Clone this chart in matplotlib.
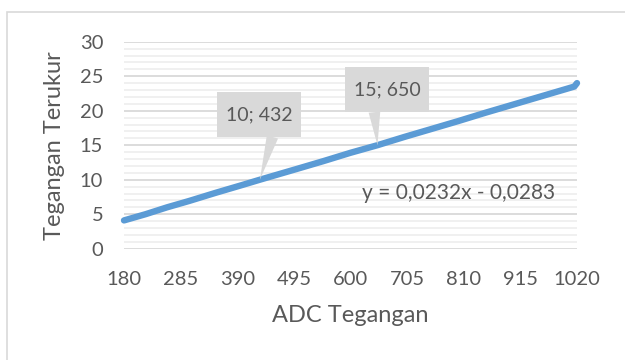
import matplotlib
matplotlib.use("Agg")
import matplotlib.pyplot as plt
from matplotlib.patches import Rectangle
from matplotlib.ticker import MultipleLocator

plt.rcParams["font.family"] = ["Lato", "DejaVu Sans"]

# ADC reading vs measured voltage
adc = [180, 220, 260, 300, 350, 400, 432, 500, 550, 600, 650,
       700, 750, 800, 850, 900, 950, 1000, 1015, 1020]
volt = [4.1, 5.0, 6.0, 6.9, 8.1, 9.25, 10.0, 11.55, 12.7, 13.9, 15.0,
        16.2, 17.35, 18.5, 19.7, 20.85, 22.0, 23.15, 23.5, 24.0]
xticks = [180, 285, 390, 495, 600, 705, 810, 915, 1020]

callouts = [(432, 10, "10; 432"), (650, 15, "15; 650")]
equation = "y = 0,0232x - 0,0283"

txt = "#595959"
blue = "#5B9BD5"

fig = plt.figure(figsize=(6.25, 3.6), dpi=100)
fig.patches.append(Rectangle((7 / 625, -0.1), 1.2, 1.1 - 12 / 360,
                             transform=fig.transFigure, fill=False,
                             ec="#D9D9D9", lw=1.2))
ax = fig.add_axes([124 / 625, 1 - 248.7 / 360, 453 / 625, 207 / 360])

ax.plot(adc, volt, color=blue, lw=4.6, solid_capstyle="round",
        solid_joinstyle="round", clip_on=False, zorder=3)

ax.set_xlim(180, 1020)
ax.set_ylim(0, 30)
ax.set_xticks(xticks)
ax.yaxis.set_major_locator(MultipleLocator(5))
ax.yaxis.set_minor_locator(MultipleLocator(1))
ax.grid(axis="y", which="major", color="#D9D9D9", lw=1.3)
ax.grid(axis="y", which="minor", color="#EFEFEF", lw=1.3)
ax.set_axisbelow(True)
for s in ax.spines.values():
    s.set_visible(False)
ax.tick_params(which="both", length=0, labelsize=14.5, labelcolor=txt)
ax.tick_params(axis="x", pad=16)
ax.tick_params(axis="y", pad=15)

ax.set_xlabel("ADC Tegangan", fontsize=17, color=txt)
ax.set_ylabel("Tegangan Terukur", fontsize=17, color=txt)
ax.xaxis.set_label_coords(0.5, -0.27)
ax.yaxis.set_label_coords(-0.13, 0.5)

# data callouts with wedge pointers
offsets = [((-0.5, 47), 0.76), ((7, 40), 0.29)]
for (x, y, label), (off, rx) in zip(callouts, offsets):
    ax.annotate(label, xy=(x, y), xytext=off, textcoords="offset points",
                ha="center", va="center", fontsize=14, color=txt, zorder=5,
                bbox=dict(boxstyle="square,pad=0.45", fc="#D9D9D9", ec="none",
                          mutation_aspect=1.6),
                arrowprops=dict(arrowstyle="wedge,tail_width=0.6,shrink_factor=0.5",
                                fc="#D9D9D9", ec="none", relpos=(rx, 0),
                                shrinkA=0, shrinkB=0))

ax.text(801, 8.1, equation, ha="center", va="center", fontsize=15, color=txt)

fig.savefig("out.png", dpi=100)
